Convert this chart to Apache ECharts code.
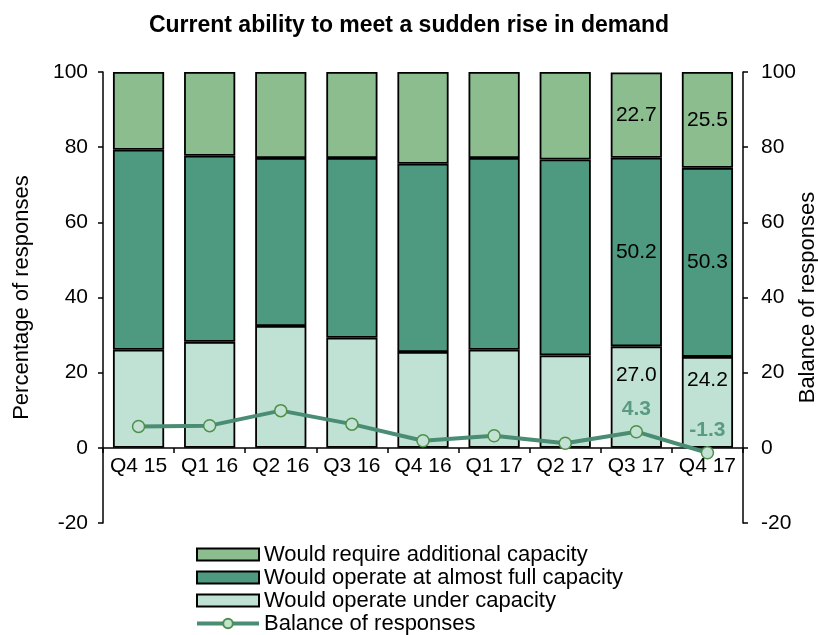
<!DOCTYPE html>
<html>
<head>
<meta charset="utf-8">
<script src="https://cdn.jsdelivr.net/npm/echarts@6/dist/echarts.min.js"></script>
<style>
  html, body { margin: 0; padding: 0; background: #fff; }
  #chart { width: 818px; height: 635px; }
</style>
</head>
<body>
<div id="chart"></div>
<script>
// 季度
const categories = ['Q4 15', 'Q1 16', 'Q2 16', 'Q3 16', 'Q4 16', 'Q1 17', 'Q2 17', 'Q3 17', 'Q4 17']
// 各类回答占比（%）
const underCapacity = [26.1, 28.2, 32.4, 29.3, 25.5, 26.1, 24.6, 27.0, 24.2]
const fullCapacity = [53.2, 49.5, 44.7, 47.8, 50.1, 51.0, 52.1, 50.2, 50.3]
const additionalCapacity = [20.7, 22.3, 22.9, 22.9, 24.4, 22.9, 23.3, 22.7, 25.5]
// 差额
const balance = [5.7, 5.9, 9.9, 6.3, 1.9, 3.2, 1.2, 4.3, -1.3]
// 只给最后两个季度标数值
const firstLabelled = 7

const font = '"Liberation Sans", Arial, sans-serif'
const labelFmt = p => (p.dataIndex >= firstLabelled ? Number(p.value).toFixed(1) : '')

const myChart = echarts.init(document.getElementById('chart'))

const barSeries = (name, data, color, extraLabel) => ({
  name,
  type: 'bar',
  stack: 'total',
  data,
  barCategoryGap: '28%',
  itemStyle: { color, borderColor: '#000', borderWidth: 1.8 },
  label: Object.assign({
    show: true,
    position: 'inside',
    formatter: labelFmt,
    color: '#000',
    fontSize: 21,
    fontFamily: font,
  }, extraLabel || {}),
})

const option = {
  animation: false,
  title: {
    text: 'Current ability to meet a sudden rise in demand',
    left: 'center',
    top: 9,
    textStyle: { fontSize: 23, fontWeight: 'bold', color: '#000', fontFamily: font },
  },
  legend: {
    orient: 'vertical',
    left: 195,
    top: 543,
    height: 120,
    padding: 0,
    itemWidth: 62,
    itemHeight: 12,
    itemGap: 0,
    textStyle: { fontSize: 22, lineHeight: 23, color: '#000', fontFamily: font },
    data: [
      { name: 'Would require additional capacity', icon: 'rect' },
      { name: 'Would operate at almost full capacity', icon: 'rect' },
      { name: 'Would operate under capacity', icon: 'rect' },
      { name: 'Balance of responses', lineStyle: { width: 4, color: '#4a8c74' } },
    ],
  },
  grid: { left: 103, right: 75, top: 72, bottom: 112, containLabel: false, outerBoundsMode: 'none' },
  xAxis: {
    type: 'category',
    data: categories,
    // 把横轴整体上移到 0 的位置
    offset: -75,
    axisLine: { onZero: false, lineStyle: { color: '#000', width: 1.5 } },
    axisTick: { show: true, length: 5, lineStyle: { color: '#000', width: 1.5 } },
    axisLabel: { color: '#000', fontSize: 21, fontFamily: font, margin: 8, interval: 0 },
  },
  yAxis: [
    {
      type: 'value',
      min: -20,
      max: 100,
      interval: 20,
      name: 'Percentage of responses',
      nameLocation: 'middle',
      nameGap: 70,
      nameMoveOverlap: false,
      nameTextStyle: { fontSize: 22, color: '#000', fontFamily: font },
      splitLine: { show: false },
      axisLine: { show: true, lineStyle: { color: '#000', width: 1.5 } },
      axisTick: { show: true, length: 5, lineStyle: { color: '#000', width: 1.5 } },
      axisLabel: { color: '#000', fontSize: 21, fontFamily: font, margin: 15 },
    },
    {
      type: 'value',
      min: -20,
      max: 100,
      interval: 20,
      name: 'Balance of responses',
      nameLocation: 'middle',
      nameGap: 54,
      nameMoveOverlap: false,
      nameTextStyle: { fontSize: 22, color: '#000', fontFamily: font },
      splitLine: { show: false },
      axisLine: { show: true, lineStyle: { color: '#000', width: 1.5 } },
      axisTick: { show: true, length: 5, lineStyle: { color: '#000', width: 1.5 } },
      axisLabel: { color: '#000', fontSize: 21, fontFamily: font, margin: 18 },
    },
  ],
  series: [
    barSeries('Would operate under capacity', underCapacity, '#c0e2d4', { offset: [0, -22] }),
    barSeries('Would operate at almost full capacity', fullCapacity, '#4e9a80'),
    barSeries('Would require additional capacity', additionalCapacity, '#8bbd8f'),
    {
      name: 'Balance of responses',
      type: 'line',
      yAxisIndex: 1,
      data: balance,
      symbol: 'circle',
      symbolSize: 12,
      lineStyle: { color: '#4a8c74', width: 4 },
      itemStyle: { color: '#c2e3d3', borderColor: '#4f8f4a', borderWidth: 1.5 },
      label: {
        show: true,
        position: 'top',
        distance: 5,
        formatter: labelFmt,
        color: '#5a9a82',
        fontSize: 21,
        fontWeight: 'bold',
        fontFamily: font,
      },
      z: 5,
    },
  ],
}
myChart.setOption(option)
</script>
</body>
</html>
